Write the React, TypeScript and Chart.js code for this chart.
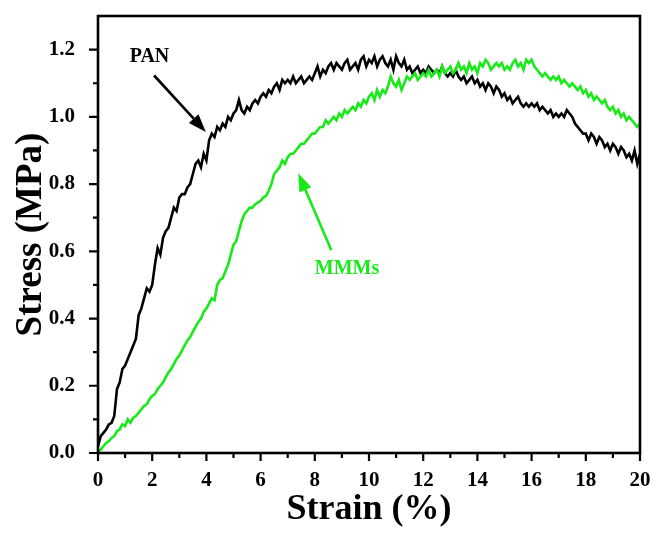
import React, { useEffect, useRef } from "react";
import { Chart, registerables } from "chart.js";

Chart.register(...registerables);

// ---------- data ----------
const strain = [
  0, 0.1, 0.2, 0.3, 0.4, 0.5, 0.6, 0.7, 0.8, 0.9,
  1.0, 1.1, 1.2, 1.3, 1.4, 1.5, 1.6, 1.7, 1.8, 1.9,
  2.0, 2.1, 2.2, 2.3, 2.4, 2.5, 2.6, 2.7, 2.8, 2.9,
  3.0, 3.1, 3.2, 3.3, 3.4, 3.5, 3.6, 3.7, 3.8, 3.9,
  4.0, 4.1, 4.2, 4.3, 4.4, 4.5, 4.6, 4.7, 4.8, 4.9,
  5.0, 5.1, 5.2, 5.3, 5.4, 5.5, 5.6, 5.7, 5.8, 5.9,
  6.0, 6.1, 6.2, 6.3, 6.4, 6.5, 6.6, 6.7, 6.8, 6.9,
  7.0, 7.1, 7.2, 7.3, 7.4, 7.5, 7.6, 7.7, 7.8, 7.9,
  8.0, 8.1, 8.2, 8.3, 8.4, 8.5, 8.6, 8.7, 8.8, 8.9,
  9.0, 9.1, 9.2, 9.3, 9.4, 9.5, 9.6, 9.7, 9.8, 9.9,
  10.0, 10.1, 10.2, 10.3, 10.4, 10.5, 10.6, 10.7, 10.8, 10.9,
  11.0, 11.1, 11.2, 11.3, 11.4, 11.5, 11.6, 11.7, 11.8, 11.9,
  12.0, 12.1, 12.2, 12.3, 12.4, 12.5, 12.6, 12.7, 12.8, 12.9,
  13.0, 13.1, 13.2, 13.3, 13.4, 13.5, 13.6, 13.7, 13.8, 13.9,
  14.0, 14.1, 14.2, 14.3, 14.4, 14.5, 14.6, 14.7, 14.8, 14.9,
  15.0, 15.1, 15.2, 15.3, 15.4, 15.5, 15.6, 15.7, 15.8, 15.9,
  16.0, 16.1, 16.2, 16.3, 16.4, 16.5, 16.6, 16.7, 16.8, 16.9,
  17.0, 17.1, 17.2, 17.3, 17.4, 17.5, 17.6, 17.7, 17.8, 17.9,
  18.0, 18.1, 18.2, 18.3, 18.4, 18.5, 18.6, 18.7, 18.8, 18.9,
  19.0, 19.1, 19.2, 19.3, 19.4, 19.5, 19.6, 19.7, 19.8, 19.9,
  20.0,
];

const panStress = [
  0.02, 0.05, 0.06, 0.07, 0.085, 0.09, 0.11, 0.19, 0.21, 0.25,
  0.26, 0.28, 0.3, 0.32, 0.34, 0.41, 0.43, 0.46, 0.49, 0.48,
  0.5, 0.56, 0.61, 0.59, 0.64, 0.66, 0.67, 0.7, 0.73, 0.72,
  0.76, 0.77, 0.77, 0.79, 0.8, 0.83, 0.86, 0.87, 0.85, 0.89,
  0.87, 0.93, 0.95, 0.94, 0.97, 0.96, 0.98, 0.97, 1.0, 0.99,
  1.01, 1.02, 1.05, 1.02, 1.01, 1.03, 1.02, 1.04, 1.05, 1.04,
  1.06, 1.07, 1.06, 1.08, 1.07, 1.09, 1.1, 1.08, 1.11, 1.1,
  1.11, 1.1, 1.12, 1.1, 1.11, 1.12, 1.1, 1.11, 1.12, 1.11,
  1.13, 1.15, 1.12, 1.14, 1.13, 1.15, 1.16, 1.14, 1.16, 1.15,
  1.14, 1.16, 1.17, 1.14, 1.15, 1.16, 1.14, 1.17, 1.18, 1.15,
  1.17, 1.16, 1.18, 1.15, 1.17, 1.18, 1.16, 1.15, 1.17, 1.14,
  1.18, 1.16, 1.15, 1.17, 1.14, 1.15, 1.13, 1.14, 1.15, 1.13,
  1.14, 1.13, 1.15, 1.14, 1.13, 1.14, 1.13, 1.15, 1.13, 1.12,
  1.13, 1.12, 1.14, 1.12, 1.11, 1.12, 1.1, 1.11, 1.12, 1.1,
  1.11, 1.09, 1.1, 1.08, 1.1, 1.09, 1.07, 1.09, 1.08, 1.06,
  1.07, 1.05, 1.06, 1.04, 1.05, 1.06, 1.04, 1.03, 1.04, 1.03,
  1.04, 1.03, 1.04, 1.02, 1.03, 1.02, 1.01, 1.02, 1.0, 1.01,
  1.0, 1.01, 1.0, 1.02, 1.01, 1.0, 0.98, 0.97, 0.96, 0.95,
  0.95, 0.93, 0.95, 0.94, 0.92, 0.94, 0.93, 0.91, 0.92, 0.9,
  0.92, 0.91, 0.89, 0.91, 0.9, 0.88, 0.89, 0.87, 0.9, 0.86,
  0.89,
];

const mmmStress = [
  0.005, 0.01, 0.02, 0.03, 0.035, 0.045, 0.05, 0.065, 0.07, 0.085,
  0.08, 0.1, 0.09, 0.105, 0.11, 0.12, 0.13, 0.14, 0.145, 0.16,
  0.17, 0.175, 0.19, 0.2, 0.21, 0.225, 0.24, 0.25, 0.265, 0.28,
  0.29, 0.305, 0.32, 0.335, 0.345, 0.36, 0.375, 0.39, 0.4, 0.42,
  0.43, 0.445, 0.46, 0.455, 0.5, 0.515, 0.52, 0.54, 0.56, 0.59,
  0.62, 0.63, 0.66, 0.69, 0.71, 0.72, 0.73, 0.73, 0.74, 0.745,
  0.75, 0.76, 0.765, 0.78, 0.8, 0.83, 0.84, 0.85, 0.87, 0.86,
  0.88, 0.89, 0.89, 0.9, 0.91, 0.92, 0.92, 0.93, 0.94, 0.95,
  0.95, 0.96, 0.97, 0.97, 0.99, 0.98, 0.99, 1.0, 0.99, 1.01,
  1.0, 1.02, 1.01, 1.02, 1.03, 1.02, 1.04, 1.03, 1.05, 1.04,
  1.06, 1.07, 1.05, 1.08, 1.06, 1.08, 1.07, 1.09, 1.12, 1.1,
  1.09, 1.11, 1.08, 1.1, 1.12, 1.11, 1.12, 1.13, 1.11, 1.12,
  1.13, 1.12, 1.14, 1.12, 1.13, 1.14, 1.12, 1.15, 1.13, 1.14,
  1.15, 1.13, 1.14, 1.16, 1.14, 1.15, 1.13, 1.16, 1.14, 1.15,
  1.13, 1.16, 1.15, 1.17, 1.16, 1.14, 1.15, 1.16, 1.15, 1.16,
  1.14, 1.15, 1.14, 1.16, 1.17, 1.15, 1.16, 1.14, 1.17, 1.16,
  1.17, 1.15, 1.14, 1.13, 1.12, 1.13, 1.12, 1.11, 1.12, 1.11,
  1.12, 1.1, 1.11, 1.1, 1.09, 1.1, 1.09, 1.08, 1.09, 1.07,
  1.08, 1.06, 1.07, 1.05, 1.06, 1.05, 1.04, 1.05, 1.03, 1.02,
  1.03, 1.01, 1.02, 1.0, 1.01, 0.99, 1.0, 0.99, 0.98, 0.97,
  0.98,
];

const xMajorTicks = [0, 2, 4, 6, 8, 10, 12, 14, 16, 18, 20];
const xMinorTicks = [1, 3, 5, 7, 9, 11, 13, 15, 17, 19];
const yMajorTicks = [0, 0.2, 0.4, 0.6, 0.8, 1.0, 1.2];
const yMinorTicks = [0.1, 0.3, 0.5, 0.7, 0.9, 1.1];

const seriesNames = ["PAN", "MMMs"];

// annotation anchors in data units: [x, y]
const panLabelAt = [1.9, 1.178];
const panArrowFrom = [2.07, 1.123];
const panArrowTo = [3.98, 0.955];
const mmmLabelAt = [9.19, 0.548];
const mmmArrowFrom = [8.61, 0.603];
const mmmArrowTo = [7.39, 0.832];

// ---------- styles ----------
const FONT = "'Liberation Serif', 'Times New Roman', serif";
const GREEN = "rgb(24,234,24)";
const BLACK = "#000000";

function drawArrow(ctx: CanvasRenderingContext2D, x1: number, y1: number, x2: number, y2: number, color: string) {
  const ang = Math.atan2(y2 - y1, x2 - x1);
  const headLen = 18;
  const headHalf = 6.5;
  const bx = x2 - headLen * Math.cos(ang);
  const by = y2 - headLen * Math.sin(ang);
  ctx.strokeStyle = color;
  ctx.fillStyle = color;
  ctx.lineWidth = 2.6;
  ctx.beginPath();
  ctx.moveTo(x1, y1);
  ctx.lineTo(bx, by);
  ctx.stroke();
  ctx.beginPath();
  ctx.moveTo(x2, y2);
  ctx.lineTo(bx + headHalf * Math.sin(ang), by - headHalf * Math.cos(ang));
  ctx.lineTo(bx - headHalf * Math.sin(ang), by + headHalf * Math.cos(ang));
  ctx.closePath();
  ctx.fill();
}

const framePlugin = {
  id: "frameAndAnnotations",
  afterDatasetsDraw(chart: any) {
    const { ctx, chartArea: a, scales } = chart;
    const xs = scales.x;
    const ys = scales.y;
    ctx.save();
    // frame
    ctx.strokeStyle = BLACK;
    ctx.lineWidth = 2.6;
    ctx.strokeRect(a.left, a.top, a.right - a.left, a.bottom - a.top);
    // ticks (outward)
    ctx.lineWidth = 2.2;
    ctx.beginPath();
    for (const v of xMajorTicks) {
      const px = xs.getPixelForValue(v);
      ctx.moveTo(px, a.bottom);
      ctx.lineTo(px, a.bottom + 8);
    }
    for (const v of xMinorTicks) {
      const px = xs.getPixelForValue(v);
      ctx.moveTo(px, a.bottom);
      ctx.lineTo(px, a.bottom + 5);
    }
    for (const v of yMajorTicks) {
      const py = ys.getPixelForValue(v);
      ctx.moveTo(a.left, py);
      ctx.lineTo(a.left - 9, py);
    }
    for (const v of yMinorTicks) {
      const py = ys.getPixelForValue(v);
      ctx.moveTo(a.left, py);
      ctx.lineTo(a.left - 5, py);
    }
    ctx.stroke();

    // annotations
    ctx.font = `bold 20px ${FONT}`;
    ctx.textAlign = "center";
    ctx.textBaseline = "middle";
    ctx.fillStyle = BLACK;
    ctx.fillText(seriesNames[0], xs.getPixelForValue(panLabelAt[0]), ys.getPixelForValue(panLabelAt[1]));
    drawArrow(
      ctx,
      xs.getPixelForValue(panArrowFrom[0]), ys.getPixelForValue(panArrowFrom[1]),
      xs.getPixelForValue(panArrowTo[0]), ys.getPixelForValue(panArrowTo[1]),
      BLACK
    );
    ctx.fillStyle = GREEN;
    ctx.fillText(seriesNames[1], xs.getPixelForValue(mmmLabelAt[0]), ys.getPixelForValue(mmmLabelAt[1]));
    drawArrow(
      ctx,
      xs.getPixelForValue(mmmArrowFrom[0]), ys.getPixelForValue(mmmArrowFrom[1]),
      xs.getPixelForValue(mmmArrowTo[0]), ys.getPixelForValue(mmmArrowTo[1]),
      GREEN
    );
    ctx.restore();
  },
};

export default function App() {
  const canvasRef = useRef<HTMLCanvasElement | null>(null);

  useEffect(() => {
    const canvas = canvasRef.current;
    if (!canvas) return;
    const chart = new Chart(canvas, {
      type: "line",
      data: {
        datasets: [
          {
            label: seriesNames[1],
            data: strain.map((x, i) => ({ x, y: mmmStress[i] })),
            borderColor: GREEN,
            borderWidth: 2.6,
            pointRadius: 0,
            tension: 0,
            fill: false,
          },
          {
            label: seriesNames[0],
            data: strain.map((x, i) => ({ x, y: panStress[i] })),
            borderColor: BLACK,
            borderWidth: 2.6,
            pointRadius: 0,
            tension: 0,
            fill: false,
          },
        ],
      },
      options: {
        responsive: false,
        animation: false,
        events: [],
        layout: { padding: { left: 0, top: 16, right: 17, bottom: 0 } },
        plugins: {
          legend: { display: false },
          tooltip: { enabled: false },
          title: { display: false },
        },
        scales: {
          x: {
            type: "linear",
            min: 0,
            max: 20,
            grid: { display: false },
            border: { display: false },
            afterBuildTicks: (s: any) => {
              s.ticks = xMajorTicks.map((v) => ({ value: v }));
            },
            afterFit: (s: any) => {
              s.height = 81;
              s.paddingLeft = 0;
              s.paddingRight = 0;
            },
            ticks: {
              padding: 7,
              color: BLACK,
              maxRotation: 0,
              autoSkip: false,
              font: { family: FONT, size: 21, weight: "bold" },
              callback: (v: any) => String(v),
            },
            title: {
              display: true,
              text: "Strain (%)",
              color: BLACK,
              font: { family: FONT, size: 36, weight: "bold" },
              padding: { top: 0, bottom: 3 },
            },
          },
          y: {
            type: "linear",
            min: 0,
            max: 1.3,
            grid: { display: false },
            border: { display: false },
            afterBuildTicks: (s: any) => {
              s.ticks = yMajorTicks.map((v) => ({ value: v }));
            },
            afterFit: (s: any) => {
              s.width = 98;
              s.paddingTop = 0;
              s.paddingBottom = 0;
            },
            ticks: {
              padding: 15,
              color: BLACK,
              autoSkip: false,
              font: { family: FONT, size: 21, weight: "bold" },
              callback: (v: any) => Number(v).toFixed(1),
            },
            title: {
              display: true,
              text: "Stress (MPa)",
              color: BLACK,
              font: { family: FONT, size: 37, weight: "bold" },
              padding: { top: 9, bottom: 0 },
            },
          },
        },
      },
      plugins: [framePlugin],
    });
    return () => chart.destroy();
  }, []);

  return (
    <div style={{ position: "absolute", left: 0, top: 0, width: 657, height: 534, background: "#fff" }}>
      <canvas ref={canvasRef} width={657} height={534} style={{ display: "block" }} />
    </div>
  );
}
